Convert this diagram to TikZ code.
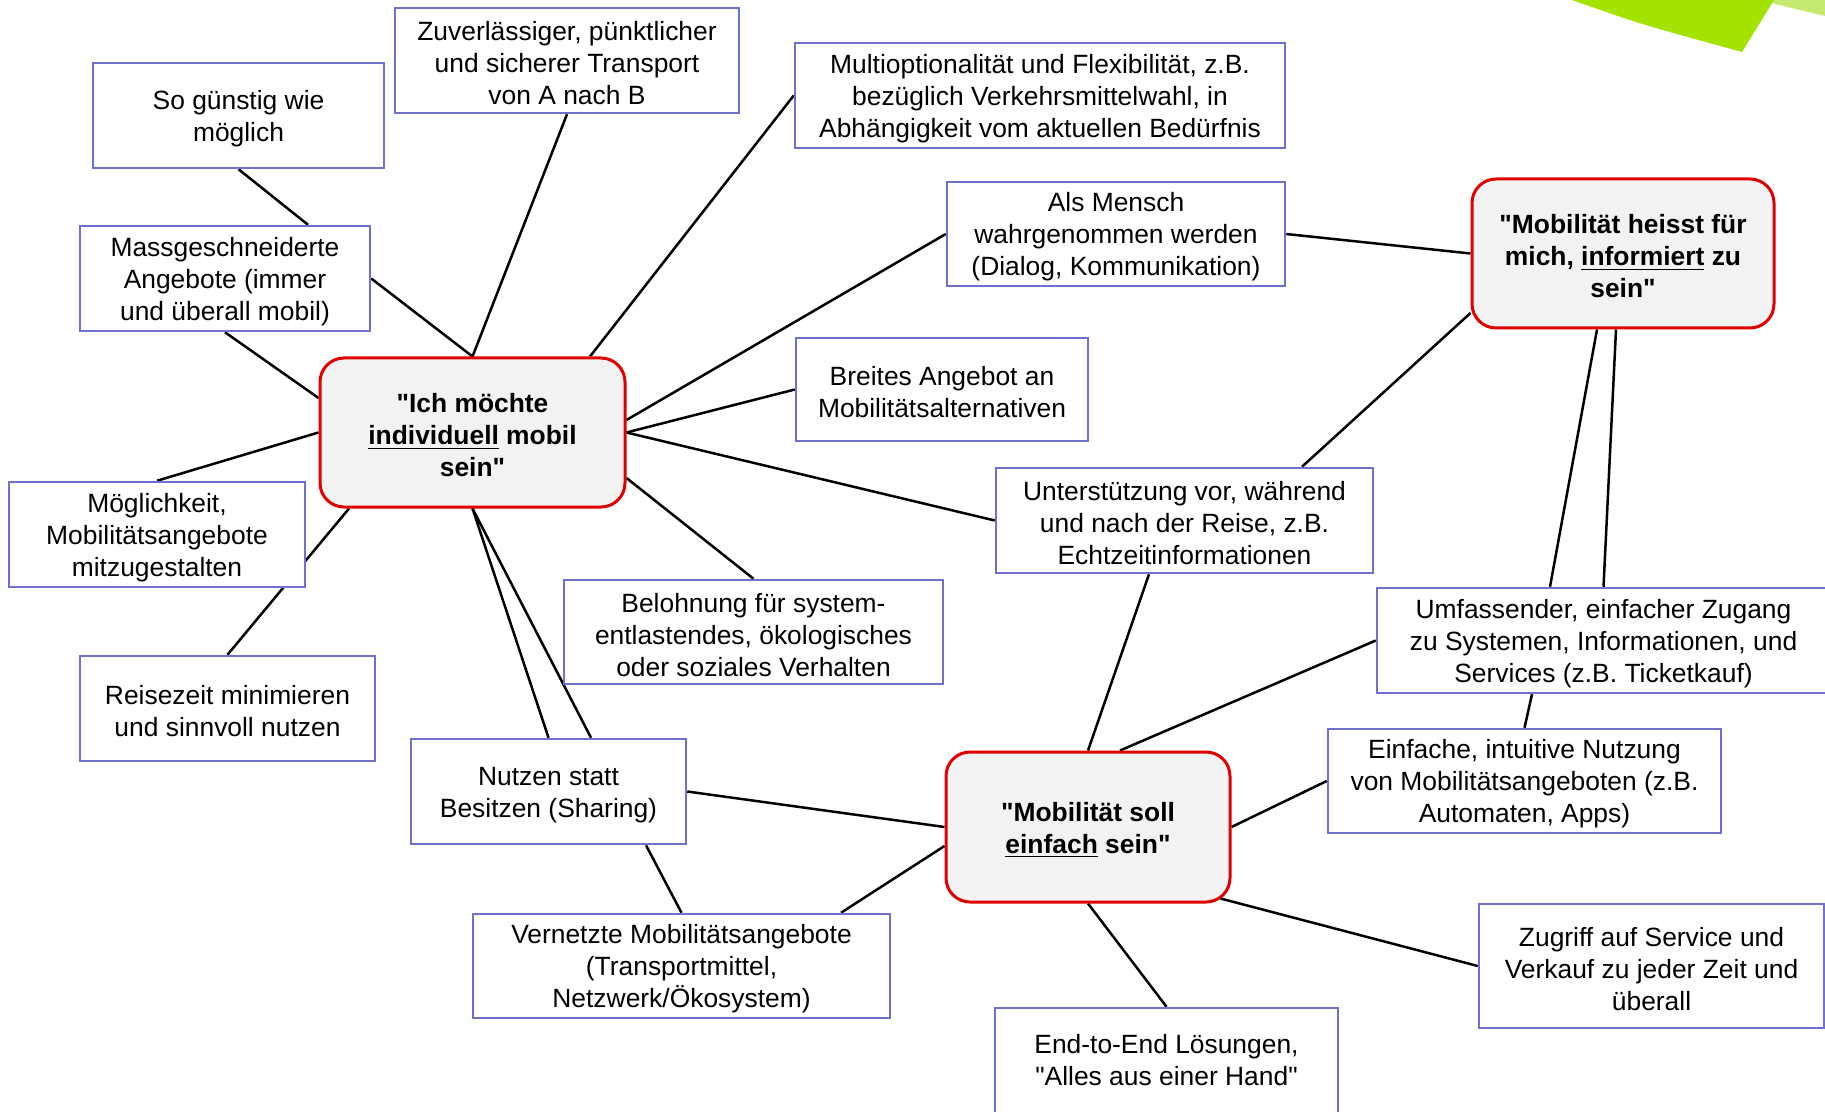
\documentclass[tikz,border=0pt]{standalone}
\usepackage{fontspec}
\setmainfont{Liberation Sans}[Ligatures=TeXOff]
\usetikzlibrary{calc}
\definecolor{boxblue}{RGB}{112,112,208}
\definecolor{hubred}{RGB}{224,0,0}
\definecolor{hubfill}{RGB}{242,242,242}
\definecolor{greenA}{RGB}{164,226,0}
\definecolor{greenB}{RGB}{198,234,112}
\newcommand\toplift{\rule{0pt}{12.5pt}}
\pgfdeclarelayer{bg}
\pgfsetlayers{bg,main}
\begin{document}
\begin{tikzpicture}[x=0.5pt,y=-0.5pt,
  every node/.style={font=\fontsize{13.2}{16}\selectfont, align=center, inner sep=0pt},
  box/.style={draw=boxblue, line width=1.25pt, fill=white, rectangle},
  hub/.style={draw=hubred, line width=1.5pt, fill=hubfill, rounded corners=12pt, font=\bfseries\fontsize{13.2}{16}\selectfont},
  link/.style={draw=black, line width=1.25pt}]
\useasboundingbox (0,0) rectangle (1825,1112);

% decorative green corner
\fill[greenB] (1767,0) -- (1825,0) -- (1825,16) -- (1775,4) -- cycle;
\fill[greenA] (1572,0) .. controls (1640,24) .. (1742,52) -- (1774,0) -- cycle;

% nodes
\node[box, minimum width=145.5pt, minimum height=52.5pt] (gunstig) at (238.5,115.5) {\toplift So günstig wie\\möglich};
\node[box, minimum width=172pt, minimum height=52.5pt] (zuver) at (567,60.5) {\toplift Zuverlässiger, pünktlicher\\und sicherer Transport\\von A nach B};
\node[box, minimum width=245pt, minimum height=52.5pt] (multi) at (1040,95.5) {\toplift Multioptionalität und Flexibilität, z.B.\\bezüglich Verkehrsmittelwahl, in\\Abhängigkeit vom aktuellen Bedürfnis};
\node[box, minimum width=169pt, minimum height=52pt] (mensch) at (1116,234) {\toplift Als Mensch\\wahrgenommen werden\\(Dialog, Kommunikation)};
\node[hub, minimum width=151pt, minimum height=74.5pt] (info) at (1623,253.5) {\toplift"Mobilität heisst für\\mich, \underline{informiert} zu\\sein"};
\node[box, minimum width=145pt, minimum height=52.5pt] (massg) at (225,278.5) {\toplift Massgeschneiderte\\Angebote (immer\\und überall mobil)};
\node[hub, minimum width=152.5pt, minimum height=74.5pt] (ich) at (472.5,432.5) {\toplift"Ich möchte\\\underline{individuell} mobil\\sein"};
\node[box, minimum width=146pt, minimum height=51.5pt] (breit) at (942,389.5) {\toplift Breites Angebot an\\Mobilitätsalternativen};
\node[box, minimum width=148pt, minimum height=52.5pt] (mogl) at (157,534.5) {\toplift Möglichkeit,\\Mobilitätsangebote\\mitzugestalten};
\node[box, minimum width=188.5pt, minimum height=52.5pt] (unter) at (1184.5,520.5) {\toplift Unterstützung vor, während\\und nach der Reise, z.B.\\Echtzeitinformationen};
\node[box, minimum width=189.5pt, minimum height=52pt] (beloh) at (753.5,632) {\toplift Belohnung für system-\\entlastendes, ökologisches\\oder soziales Verhalten};
\node[box, minimum width=226.5pt, minimum height=52.5pt] (umf) at (1603.5,640.5) {\toplift Umfassender, einfacher Zugang\\zu Systemen, Informationen, und\\Services (z.B. Ticketkauf)};
\node[box, minimum width=147.5pt, minimum height=52.5pt] (reise) at (227.5,708.5) {\toplift Reisezeit minimieren\\und sinnvoll nutzen};
\node[box, minimum width=137.5pt, minimum height=52.5pt] (nutzen) at (548.5,791.5) {\toplift Nutzen statt\\Besitzen (Sharing)};
\node[hub, minimum width=142pt, minimum height=75pt] (soll) at (1088,827) {\toplift"Mobilität soll\\\underline{einfach} sein"};
\node[box, minimum width=196.5pt, minimum height=52pt] (einf) at (1524.5,781) {\toplift Einfache, intuitive Nutzung\\von Mobilitätsangeboten (z.B.\\Automaten, Apps)};
\node[box, minimum width=208.5pt, minimum height=52pt] (vern) at (681.5,966) {\toplift Vernetzte Mobilitätsangebote\\(Transportmittel,\\Netzwerk/Ökosystem)};
\node[box, minimum width=172.5pt, minimum height=62pt] (zugr) at (1651.5,966) {\toplift Zugriff auf Service und\\Verkauf zu jeder Zeit und\\überall};
\node[box, minimum width=171.5pt, minimum height=58pt] (endend) at (1166.5,1066) {\toplift End-to-End Lösungen,\\"Alles aus einer Hand"\rule[-9.4pt]{0pt}{9.4pt}};

% connectors
\begin{pgfonlayer}{bg}
\fill[white] (0,0) rectangle (1825,1112);
\draw[link] (gunstig.south) -- ($(massg.north)+(83,0)$);
\draw[link] (massg.east) -- (ich.north);
\draw[link] (zuver.south) -- (ich.north);
\draw[link] (multi.west) -- ($(ich.north)+(117.5,0)$);
\draw[link] (mensch.west) -- ($(ich.east)+(0,-12.5)$);
\draw[link] (breit.west) -- (ich.east);
\draw[link] (unter.west) -- (ich.east);
\draw[link] (beloh.north) -- ($(ich.east)+(0,45.5)$);
\draw[link] (massg.south) -- ($(ich.west)+(0,-34.5)$);
\draw[link] (mogl.north) -- (ich.west);
\draw[link] (reise.north) -- ($(ich.south)+(-123.5,0)$);
\draw[link] (ich.south) -- (nutzen.north);
\draw[link] (ich.south) -- ($(nutzen.north)+(42.5,0)$);
\draw[link] (nutzen.east) -- (soll.west);
\draw[link] ($(nutzen.south)+(97.5,0)$) -- (vern.north);
\draw[link] ($(vern.north)+(159.5,0)$) -- ($(soll.west)+(0,19)$);
\draw[link] ($(unter.south)+(-35.5,0)$) -- (soll.north);
\draw[link] (umf.west) -- ($(soll.north)+(32,0)$);
\draw[link] (einf.west) -- (soll.east);
\draw[link] ($(soll.south east)+(-11,-5)$) -- (zugr.west);
\draw[link] (soll.south) -- (endend.north);
\draw[link] ($(umf.south)+(-71.5,0)$) -- (einf.north);
\draw[link] ($(info.west)+(0,59.5)$) -- ($(unter.north)+(117.5,0)$);
\draw[link] (info.west) -- (mensch.east);
\draw[link] ($(info.south)+(-26,0)$) -- ($(umf.north)+(-53.5,0)$);
\draw[link] ($(info.south)+(-7,0)$) -- (umf.north);
\end{pgfonlayer}
\end{tikzpicture}
\end{document}
